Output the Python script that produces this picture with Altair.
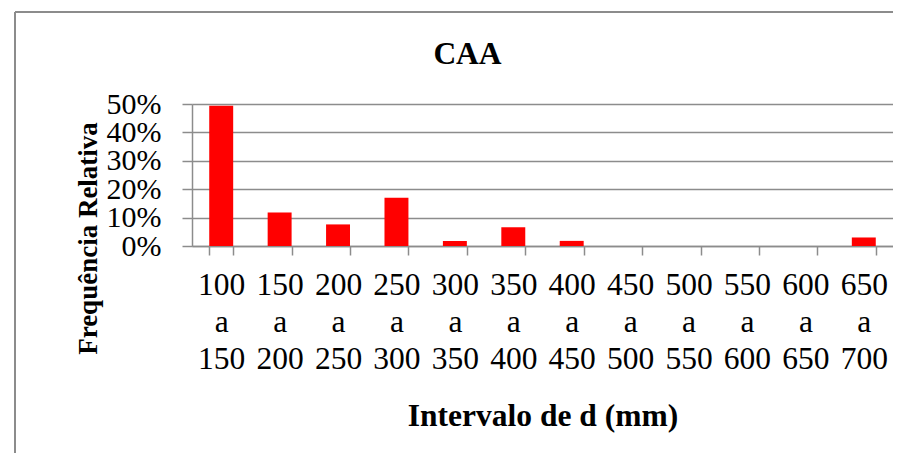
import altair as alt
import pandas as pd

categories = ["100 a 150", "150 a 200", "200 a 250", "250 a 300", "300 a 350",
              "350 a 400", "400 a 450", "450 a 500", "500 a 550", "550 a 600",
              "600 a 650", "650 a 700"]
values = [0.494, 0.118, 0.076, 0.170, 0.018, 0.066, 0.018, 0.0, 0.0, 0.0, 0.0, 0.030]

df = pd.DataFrame({"intervalo": categories, "freq": values})

GRAY = "#8c8c8c"
FONT = "Liberation Serif"
FS = 31.5

bars = alt.Chart(df).mark_bar(color="#FF0000").encode(
    x=alt.X("intervalo:N", sort=categories,
            scale=alt.Scale(paddingInner=0.59, paddingOuter=0.295),
            axis=alt.Axis(title="Intervalo de d (mm)", labelAngle=0,
                          labelExpr="split(datum.label, ' ')",
                          labelLineHeight=37, labelBaseline="top",
                          labelPadding=14, tickBand="extent",
                          tickSize=9, tickColor=GRAY, tickWidth=1.5,
                          domainColor=GRAY, domainWidth=1.5,
                          labelFont=FONT, labelFontSize=FS, labelColor="black",
                          titleFont=FONT, titleFontSize=FS, titleFontWeight="bold",
                          titleColor="black", titleY=179, titleBaseline="alphabetic")),
    y=alt.Y("freq:Q", scale=alt.Scale(domain=[0, 0.5]),
            axis=alt.Axis(title="Frequência Relativa", format=".0%",
                          values=[0, 0.1, 0.2, 0.3, 0.4, 0.5], labelOverlap=False,
                          tickSize=10, tickColor=GRAY, tickWidth=1.5,
                          domainColor=GRAY, domainWidth=1.5,
                          gridColor=GRAY, gridWidth=1.5,
                          labelPadding=21, labelFont=FONT, labelFontSize=30,
                          labelColor="black",
                          titleFont=FONT, titleFontSize=27, titleFontWeight="bold",
                          titleColor="black", titleAngle=270, titleX=-96, titleY=134,
                          titleBaseline="alphabetic", titleAlign="center")),
)

frame_df = pd.DataFrame({"k": [0]})
frame_left = alt.Chart(frame_df).mark_rule(color=GRAY, strokeWidth=2).encode(
    x=alt.value(-177), y=alt.value(-92), y2=alt.value(400))
frame_top = alt.Chart(frame_df).mark_rule(color=GRAY, strokeWidth=2).encode(
    x=alt.value(-177), x2=alt.value(720), y=alt.value(-92))

chart = alt.layer(bars, frame_left, frame_top).properties(
    width=701, height=142,
    title=alt.TitleParams("CAA", font=FONT, fontSize=FS, fontWeight="bold",
                          color="black", anchor="middle", dx=-75, offset=0, dy=84,
                          baseline="alphabetic"),
    padding={"left": 184, "top": 96, "right": 0, "bottom": 207},
    autosize=alt.AutoSizeParams(type="none"),
).configure_view(stroke=None).configure(background="white")

chart.save("out.html", embed_options={"renderer": "svg", "actions": False})
